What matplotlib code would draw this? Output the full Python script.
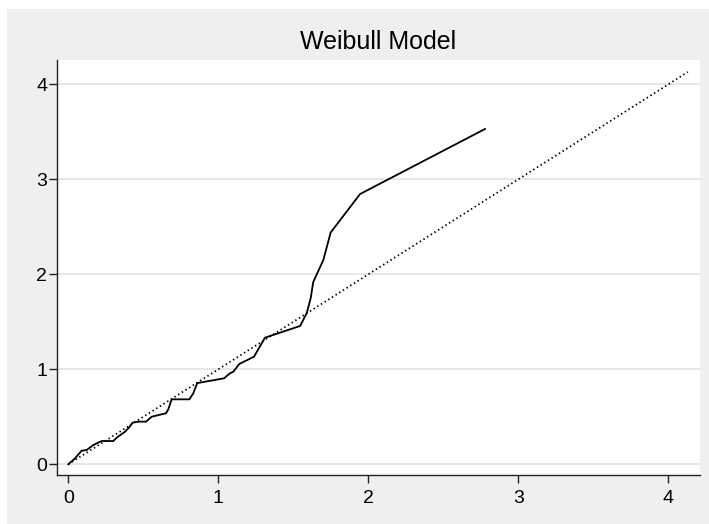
"""Weibull model: Cox-Snell residual cumulative hazard vs 45-degree line."""

import matplotlib
matplotlib.use("Agg")
import matplotlib.pyplot as plt
from matplotlib.patches import Rectangle

# Nelson-Aalen cumulative hazard of the Cox-Snell residuals
resid = [0, 0.045, 0.089, 0.122, 0.167, 0.222, 0.30, 0.322, 0.378, 0.40,
         0.429, 0.467, 0.518, 0.556, 0.651, 0.667, 0.689, 0.807, 0.833, 0.86,
         1.038, 1.078, 1.10, 1.14, 1.238, 1.311, 1.545, 1.589, 1.616, 1.633,
         1.70, 1.749, 1.945, 2.778]
cumhaz = [0, 0.063, 0.143, 0.15, 0.203, 0.245, 0.245, 0.28, 0.343, 0.379,
          0.438, 0.449, 0.449, 0.501, 0.537, 0.579, 0.684, 0.684, 0.747, 0.855,
          0.905, 0.958, 0.975, 1.056, 1.133, 1.333, 1.456, 1.59, 1.75, 1.92,
          2.15, 2.44, 2.845, 3.53]
diag = [0, 4.13]
ticks = [0, 1, 2, 3, 4]
title = "Weibull Model"

plt.rcParams["font.family"] = ["Liberation Sans", "DejaVu Sans"]

bg = "#efefef"
fig = plt.figure(figsize=(7.09, 5.24), dpi=100, facecolor=bg)
# white margin strips at top and left (screenshot crop)
fig.patches.append(Rectangle((0, 1 - 9 / 524), 1, 9 / 524, transform=fig.transFigure,
                             facecolor="white", edgecolor="none", zorder=0))
fig.patches.append(Rectangle((0, 0), 7 / 709, 1, transform=fig.transFigure,
                             facecolor="white", edgecolor="none", zorder=0))

ax = fig.add_axes([57 / 709, 1 - 475 / 524, (700 - 57) / 709, (475 - 60) / 524])
ax.set_facecolor("white")

ax.plot(resid, cumhaz, color="black", lw=1.3, solid_joinstyle="miter")
ax.plot(diag, diag, color="black", lw=1.3, linestyle=(0, (0.8, 1.6)))

ax.set_xlim(-0.0753, 4.211)
ax.set_ylim(-0.1126, 4.256)
ax.set_xticks(ticks)
ax.set_yticks(ticks)
ax.tick_params(axis="both", direction="out", length=6, width=1, color="#222222",
               labelsize=14, pad=1)
ax.tick_params(axis="x", pad=5)
ax.grid(axis="y", color="#e6e6e6", lw=1.4)
ax.set_axisbelow(True)
for side in ("top", "right"):
    ax.spines[side].set_visible(False)
for side in ("left", "bottom"):
    ax.spines[side].set_color("#222222")
    ax.spines[side].set_linewidth(1)

ax.set_title(title, fontsize=18, pad=8)

fig.savefig("out.png", dpi=100, facecolor=bg)
